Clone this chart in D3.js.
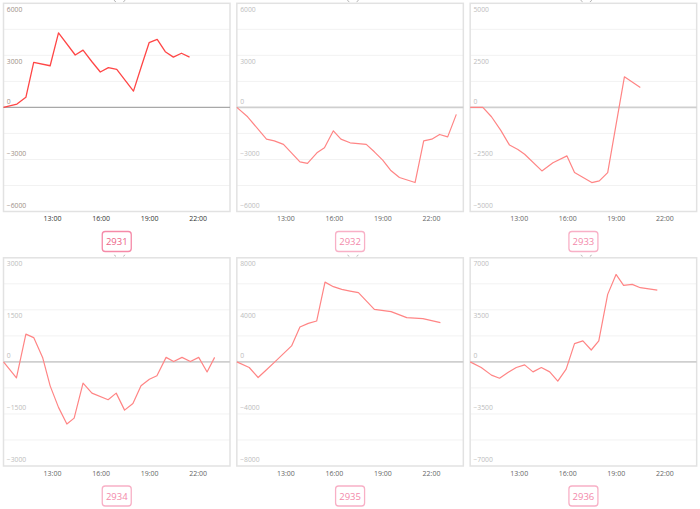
<!DOCTYPE html>
<html><head><meta charset="utf-8">
<script src="https://cdn.jsdelivr.net/npm/d3@7"></script>
<style>body{margin:0;background:#fff}svg{display:block;font-family:"Open Sans",sans-serif}</style>
</head><body><svg id="c" width="700" height="509"></svg>
<script>
const codes = ["2931", "2932", "2933", "2934", "2935", "2936"];
const yMax = [6000, 6000, 5000, 3000, 8000, 7000];
const xTicks = ["13:00", "16:00", "19:00", "22:00"];
const xDomain = ["10:00", "24:00"];

const times2931 = ["10:00","10:50","11:23","11:52","12:53","13:24","14:26","14:55","15:28","15:59","16:29","17:00","18:02","18:33","19:00","19:30","20:00","20:30","21:00","21:30"];
const values2931 = [0,190,580,2600,2400,4300,3020,3300,2630,2040,2290,2190,940,2440,3730,3920,3210,2900,3120,2900];

const times2932 = ["10:00","10:40","11:50","12:19","12:53","13:54","14:22","14:57","15:25","15:58","16:26","17:00","18:00","18:30","19:01","19:30","20:03","21:01","21:33","22:03","22:32","23:02","23:34"];
const values2932 = [0,-540,-1830,-1930,-2130,-3140,-3230,-2620,-2330,-1350,-1830,-2040,-2130,-2560,-3040,-3620,-4040,-4330,-1930,-1830,-1560,-1700,-400];

const times2933 = ["10:00","10:47","11:19","11:53","12:26","12:57","13:22","14:26","15:07","15:59","16:27","17:31","17:59","18:30","19:32","20:31"];
const values2933 = [0,0,-450,-1090,-1810,-2020,-2250,-3050,-2660,-2330,-3130,-3610,-3530,-3130,1470,960];

const times2934 = ["10:00","10:48","11:23","11:52","12:25","12:53","13:24","13:55","14:22","14:55","15:28","16:28","16:58","17:29","18:00","18:30","19:01","19:29","20:03","20:31","21:02","21:33","22:04","22:35","23:03"];
const values2934 = [0,-460,800,700,130,-690,-1310,-1790,-1620,-610,-900,-1090,-900,-1390,-1200,-690,-500,-400,130,10,130,10,130,-290,130];

const times2935 = ["10:00","10:46","11:19","11:51","12:21","12:53","13:23","13:54","14:25","14:56","15:27","15:58","16:29","17:00","17:31","18:30","19:32","20:30","21:30","22:35"];
const values2935 = [0,-430,-1200,-580,0,640,1230,2680,2960,3140,6130,5780,5570,5440,5320,4040,3860,3400,3320,3020];

const times2936 = ["10:00","10:41","11:19","11:49","12:20","12:51","13:22","13:53","14:24","14:55","15:25","15:56","16:27","16:58","17:29","17:57","18:30","19:01","19:29","20:01","20:31","21:34"];
const values2936 = [0,-380,-890,-1100,-710,-380,-200,-670,-380,-670,-1290,-490,1230,1410,800,1410,4540,5880,5140,5210,4990,4830];

const allTimes = [times2931, times2932, times2933, times2934, times2935, times2936];
const allValues = [values2931, values2932, values2933, values2934, values2935, values2936];

const toMin = s => { const [h, m] = s.split(":").map(Number); return h * 60 + m; };

const svg = d3.select("#c");
const cellW = 700 / 3, cellH = 254.5;
const pl = 3.5, pt = 3.3, pw = 226.5, ph = 208.2;

codes.forEach((code, i) => {
  const col = i % 3, row = Math.floor(i / 3);
  const active = i === 0;
  const g = svg.append("g").attr("transform", `translate(${col * cellW},${row * cellH})`);
  const clipId = "clip" + i;
  g.append("clipPath").attr("id", clipId).append("rect").attr("width", cellW).attr("height", cellH);
  const cg = g.append("g").attr("clip-path", `url(#${clipId})`);

  // bottom fragments of a title clipped off above the chart
  cg.append("path").attr("d", "M114.2,0 Q114.6,1.6 116,1.8 M125,0 Q124.6,1.6 123.2,1.8")
    .attr("fill", "none").attr("stroke", "#aaa").attr("stroke-width", 0.8);

  const m = yMax[i];
  const x = d3.scaleLinear().domain(xDomain.map(toMin)).range([pl, pl + pw]);
  const y = d3.scaleLinear().domain([-m, m]).range([pt + ph, pt]);

  // grid
  const grid = d3.range(-3, 4).map(k => k * m / 4);
  cg.append("g").selectAll("line").data(grid.filter(v => v !== 0)).join("line")
    .attr("x1", pl).attr("x2", pl + pw).attr("y1", d => y(d)).attr("y2", d => y(d))
    .attr("stroke", "#f2f2f2").attr("stroke-width", 1);

  // border
  cg.append("rect").attr("x", pl).attr("y", pt).attr("width", pw).attr("height", ph)
    .attr("fill", "none").attr("stroke", "#e2e2e2").attr("stroke-width", 1.5);

  // zero line
  cg.append("line").attr("x1", pl).attr("x2", pl + pw).attr("y1", y(0)).attr("y2", y(0))
    .attr("stroke", active ? "#a8a8a8" : "#cfcfcf").attr("stroke-width", active ? 1.2 : 1.6);

  // y labels
  const yl = [m, m / 2, 0, -m / 2, -m];
  cg.append("g").selectAll("text").data(yl).join("text")
    .attr("x", pl + 3.3)
    .attr("y", d => d > 0 ? y(d) + 8.6 : y(d) - 3.6)
    .attr("font-size", 6.8)
    .attr("fill", active ? "#a09088" : "#bdbdbd")
    .text(d => d3.format("d")(d));

  // x axis
  const ax = cg.append("g").attr("transform", `translate(0,${pt + ph})`)
    .call(d3.axisBottom(x).tickValues(xTicks.map(toMin)).tickFormat((d, k) => xTicks[k]).tickSize(0));
  ax.select(".domain").remove();
  ax.selectAll("text").attr("font-size", 7).attr("font-family", '"Open Sans",sans-serif')
    .attr("fill", active ? "#333" : "#666").attr("dy", "0.95em").attr("y", 3);

  // line
  const pts = allTimes[i].map((t, k) => [toMin(t), allValues[i][k]]);
  cg.append("path").datum(pts)
    .attr("d", d3.line().x(d => x(d[0])).y(d => y(d[1])))
    .attr("fill", "none")
    .attr("stroke", active ? "#ff4646" : "#ff8585")
    .attr("stroke-width", active ? 1.3 : 1.2)
    .attr("stroke-linejoin", "round");

  // label box
  const bx = pl + pw / 2;
  cg.append("rect").attr("x", bx - 14.5).attr("y", 231.5).attr("width", 29).attr("height", 20)
    .attr("rx", 3).attr("fill", "#fff")
    .attr("stroke", active ? "#f58aa8" : "#f8b0c6").attr("stroke-width", 1.3);
  cg.append("text").attr("x", bx).attr("y", 245).attr("text-anchor", "middle")
    .attr("font-size", 9.5).attr("fill", active ? "#ec5f86" : "#f389aa").text(code);
});
</script></body></html>
